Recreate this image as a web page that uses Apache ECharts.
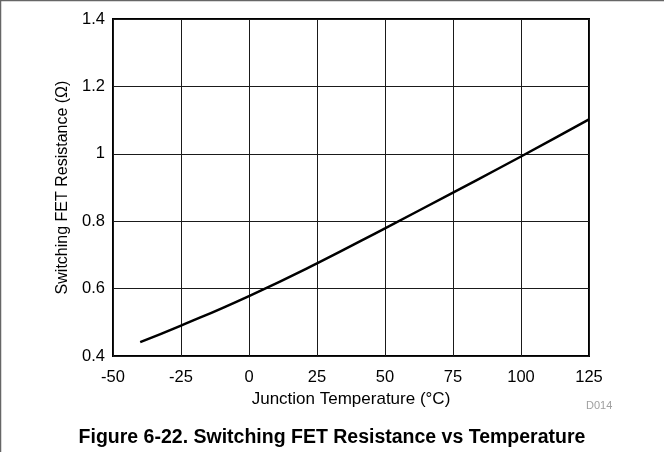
<!DOCTYPE html>
<html lang="en">
<head>
    <meta charset="UTF-8">
    <title>Switching FET Resistance vs Temperature</title>
    <script src="https://cdn.jsdelivr.net/npm/echarts@6/dist/echarts.min.js"></script>
    <style>
        html, body { margin: 0; padding: 0; background: #fff; }
        #chart { width: 664px; height: 452px; }
    </style>
</head>
<body>
    <div id="chart"></div>
    <script>
        // junction temperature (°C) and switching FET resistance (Ω)
        var temps = [-40, -25, 0, 25, 50, 75, 100, 125];
        var resistance = [0.441, 0.49, 0.578, 0.675, 0.779, 0.885, 0.992, 1.102];

        var xTicks = { min: -50, max: 125, step: 25 };
        var yTicks = { min: 0.4, max: 1.4, step: 0.2 };

        var font = 'Liberation Sans, Arial, Helvetica, sans-serif';
        var myChart = echarts.init(document.getElementById('chart'));

        var option = {
            animation: false,
            backgroundColor: '#fff',
            title: {
                text: 'Figure 6-22. Switching FET Resistance vs Temperature',
                left: 'center',
                top: 423,
                textStyle: { fontFamily: font, fontSize: 19.5, fontWeight: 'bold', color: '#000' }
            },
            grid: {
                left: 113,
                right: 75,
                top: 19,
                bottom: 96,
                show: true,
                borderColor: '#000',
                borderWidth: 2
            },
            xAxis: {
                type: 'value',
                min: xTicks.min,
                max: xTicks.max,
                interval: xTicks.step,
                name: 'Junction Temperature (°C)',
                nameLocation: 'middle',
                nameGap: 31,
                nameTextStyle: { fontFamily: font, fontSize: 17, color: '#000' },
                axisLine: { show: false },
                axisTick: { show: false },
                axisLabel: { margin: 13, fontFamily: font, fontSize: 16.5, color: '#000' },
                splitLine: { show: true, lineStyle: { color: '#1a1a1a', width: 1 } }
            },
            yAxis: {
                type: 'value',
                min: yTicks.min,
                max: yTicks.max,
                interval: yTicks.step,
                name: 'Switching FET Resistance (Ω)',
                nameLocation: 'middle',
                nameGap: 42,
                nameTextStyle: { fontFamily: font, fontSize: 16, color: '#000' },
                axisLine: { show: false },
                axisTick: { show: false },
                axisLabel: { margin: 8, fontFamily: font, fontSize: 16.5, color: '#000' },
                splitLine: { show: true, lineStyle: { color: '#1a1a1a', width: 1 } }
            },
            graphic: [
                { type: 'line', shape: { x1: 0, y1: 0.5, x2: 664, y2: 0.5 }, style: { stroke: '#666', lineWidth: 1.5 } },
                { type: 'line', shape: { x1: 0.5, y1: 0, x2: 0.5, y2: 452 }, style: { stroke: '#666', lineWidth: 1.5 } },
                {
                    type: 'text', left: 586, top: 400,
                    style: { text: 'D014', fontFamily: font, fontSize: 11, fill: '#a0a0a0' }
                }
            ],
            series: [
                {
                    type: 'line',
                    data: temps.map(function (t, i) { return [t, resistance[i]]; }),
                    smooth: true,
                    showSymbol: false,
                    lineStyle: { color: '#000', width: 2.5 }
                }
            ]
        };
        myChart.setOption(option);
    </script>
</body>
</html>
